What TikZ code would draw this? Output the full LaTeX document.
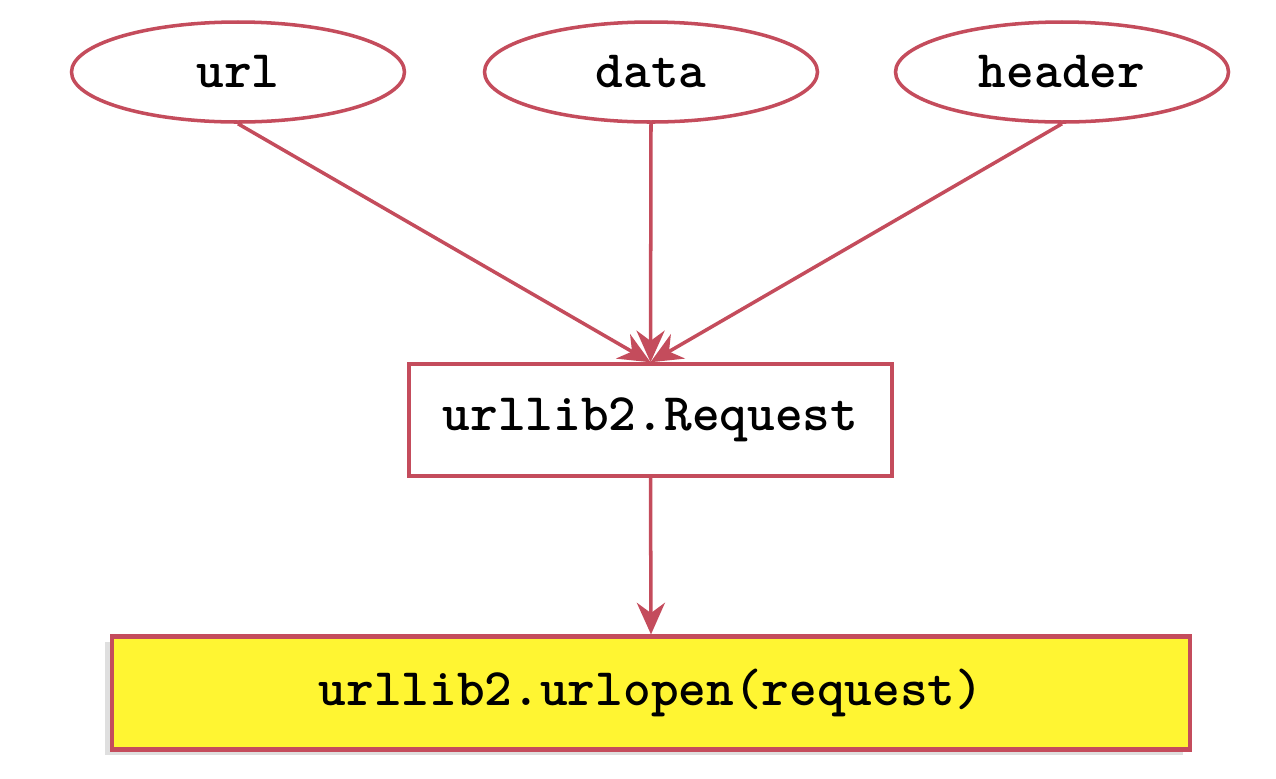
\documentclass[tikz,border=0pt]{standalone}
\usepackage{fontspec}
\usetikzlibrary{arrows.meta,shapes.geometric,shadows}
\definecolor{edgered}{RGB}{196,76,92}
\definecolor{boxyellow}{RGB}{255,245,50}
\tikzset{
	inp/.style={ellipse,draw=edgered,line width=1pt,fill=white,minimum width=3.33cm,minimum height=1cm,inner sep=0pt,font=\fontsize{15}{18}\selectfont\ttfamily\bfseries},
	req/.style={rectangle,draw=edgered,line width=1pt,fill=white,minimum width=4.83cm,minimum height=1.12cm,font=\fontsize{15}{18}\selectfont\ttfamily\bfseries},
	open/.style={rectangle,draw=edgered,line width=1.2pt,fill=boxyellow,minimum width=10.78cm,minimum height=1.13cm,font=\fontsize{15}{18}\selectfont\ttfamily\bfseries,drop shadow={shadow xshift=-2pt,shadow yshift=-1.5pt,opacity=0.25}},
	flow/.style={draw=edgered,line width=1pt,-{Stealth[length=9pt,width=8pt]}}
}
\begin{document}
\begin{tikzpicture}
		\useasboundingbox (0,0) rectangle (12.76,7.78);
		\node[inp] (url) at (2.38,7.06) {url};
		\node[inp] (data) at (6.51,7.06) {data};
		\node[inp] (header) at (10.62,7.06) {header};
		\node[req] (request) at (6.505,3.58) {urllib2.Request};
		\node[open] (urlopen) at (6.51,0.85) {urllib2.urlopen(request)};
		\draw[flow] (url.south) -- (request.north);
		\draw[flow] (data.south) -- (request.north);
		\draw[flow] (header.south) -- (request.north);
		\draw[flow] (request.south) -- (urlopen.north);
\end{tikzpicture}
\end{document}
